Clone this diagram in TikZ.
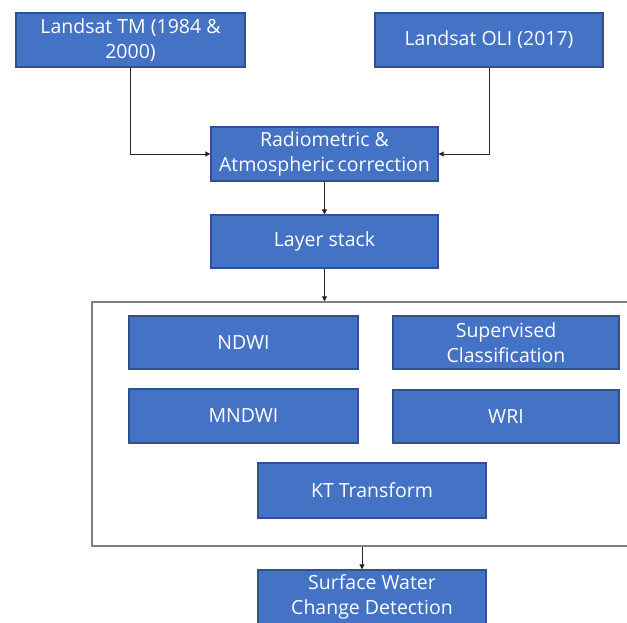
\documentclass[tikz,border=0pt]{standalone}
\usepackage{fontspec}
\setmainfont{Open Sans}
\usetikzlibrary{arrows.meta}
\definecolor{boxblue}{HTML}{4472C4}
\definecolor{boxedge}{HTML}{2F528F}
\definecolor{framegray}{HTML}{7F7F7F}
\definecolor{linedark}{HTML}{262626}
\tikzset{
  bluebox/.style={draw=boxedge, line width=1.3pt, fill=boxblue, text=white,
    minimum width=#1, minimum height=54pt, inner sep=0pt, align=center,
    font=\fontsize{19.5}{25}\selectfont},
  bluebox/.default=228pt,
  conn/.style={draw=linedark, line width=0.9pt, -{Triangle[length=5pt,width=5pt]}},
  framebox/.style={draw=framegray, line width=1.4pt, minimum width=540pt, minimum height=244pt, inner sep=0pt}
}
\begin{document}
\begin{tikzpicture}[x=1pt,y=-1pt]
\useasboundingbox (0,0) rectangle (627,622);
\clip (0,0) rectangle (627,622);
\fill[white] (0,0) rectangle (627,622);
\node[framebox] (frame) at (362,424) {};
\node[bluebox=229pt] (tm) at (130.5,40) {Landsat TM (1984 \&\\2000)};
\node[bluebox=228pt] (oli) at (489,40) {Landsat OLI (2017)};
\node[bluebox=227pt] (rad) at (324.5,154) {Radiometric \&\\Atmospheric\hspace{-2pt} correction};
\node[bluebox=227pt, minimum height=53pt] (layer) at (324.5,241.5) {Layer stack};
\node[bluebox=229pt, minimum height=53pt] (ndwi) at (243.5,342.5) {NDWI};
\node[bluebox=226pt, minimum height=53pt] (sup) at (506,342.5) {Supervised\\Classification};
\node[bluebox=229pt] (mndwi) at (243.5,416) {MNDWI};
\node[bluebox=226pt, minimum height=53pt] (wri) at (506,416.5) {WRI};
\node[bluebox=228pt, minimum height=55pt] (kt) at (372,490.5) {KT Transform};
\node[bluebox=228pt] (surf) at (372,597) {Surface Water\\Change Detection};
\draw[conn] (tm.south) |- (rad.west);
\draw[conn] (oli.south) |- (rad.east);
\draw[conn] (rad.south) -- (layer.north);
\draw[conn] (layer.south) -- (layer.south |- frame.north);
\draw[conn] (frame.south) -- (frame.south |- surf.north);
\end{tikzpicture}
\end{document}
